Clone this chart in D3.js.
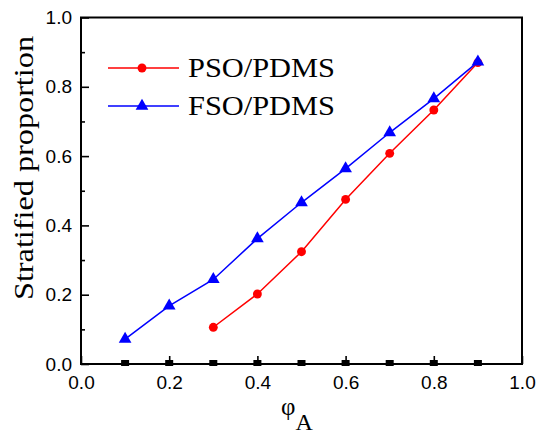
<!DOCTYPE html>
<html>
<head>
<meta charset="utf-8">
<script src="https://cdn.jsdelivr.net/npm/d3@7"></script>
<style>
  html, body { margin: 0; padding: 0; background: #fff; }
  svg { display: block; }
</style>
</head>
<body>
<svg id="chart" width="538" height="436"></svg>
<script>
// Volume fraction of component A
const phiPSO = [0.3, 0.4, 0.5, 0.6, 0.7, 0.8, 0.9];
const pso = [0.106, 0.202, 0.324, 0.475, 0.608, 0.733, 0.870];
const phiFSO = [0.1, 0.2, 0.3, 0.4, 0.5, 0.6, 0.7, 0.8, 0.9];
const fso = [0.072, 0.168, 0.244, 0.362, 0.466, 0.564, 0.668, 0.766, 0.872];
// Baseline reference points sitting on zero
const phiBase = [0.1, 0.2, 0.3, 0.4, 0.5, 0.6, 0.7, 0.8, 0.9];
const base = [0, 0, 0, 0, 0, 0, 0, 0, 0];
const majorTicks = [0, 0.2, 0.4, 0.6, 0.8, 1.0];
const minorTicks = [0.1, 0.3, 0.5, 0.7, 0.9];
const seriesNames = ["PSO/PDMS", "FSO/PDMS"];

const svg = d3.select("#chart");
const m = { left: 81, top: 17.5, right: 16, bottom: 72 };
const W = 538 - m.left - m.right;
const H = 436 - m.top - m.bottom;

const x = d3.scaleLinear().domain([0, 1]).range([0, W]);
const y = d3.scaleLinear().domain([0, 1]).range([H, 0]);

const g = svg.append("g").attr("transform", `translate(${m.left},${m.top})`);

const tickFont = "'Liberation Sans', Arial, sans-serif";
const serif = "'Liberation Serif', 'Times New Roman', serif";

// Axes: inward major ticks with labels, shorter inward minor ticks
const yAxis = g.append("g")
  .call(d3.axisLeft(y).tickValues(majorTicks).tickFormat(d3.format(".1f"))
    .tickSizeInner(-8).tickSizeOuter(0).tickPadding(9));
const yMinor = g.append("g")
  .call(d3.axisLeft(y).tickValues(minorTicks).tickFormat("")
    .tickSizeInner(-4).tickSizeOuter(0));
const xAxis = g.append("g").attr("transform", `translate(0,${H})`)
  .call(d3.axisBottom(x).tickValues(majorTicks).tickFormat(d3.format(".1f"))
    .tickSizeInner(-8).tickSizeOuter(0).tickPadding(11.5));
const xMinor = g.append("g").attr("transform", `translate(0,${H})`)
  .call(d3.axisBottom(x).tickValues(minorTicks).tickFormat("")
    .tickSizeInner(-4).tickSizeOuter(0));

[yAxis, yMinor, xAxis, xMinor].forEach(a => {
  a.select(".domain").remove();
  a.selectAll("line").attr("stroke", "#000").attr("stroke-width", 1.6);
  a.selectAll("text").attr("fill", "#000")
    .style("font-family", tickFont).style("font-size", "19px");
});

// Plot frame
g.append("rect")
  .attr("x", 0).attr("y", 0).attr("width", W).attr("height", H)
  .attr("fill", "none").attr("stroke", "#000").attr("stroke-width", 2);

// Series lines
const line = d3.line().x(d => x(d[0])).y(d => y(d[1]));
const psoPts = phiPSO.map((p, i) => [p, pso[i]]);
const fsoPts = phiFSO.map((p, i) => [p, fso[i]]);

g.append("path").datum(psoPts).attr("d", line)
  .attr("fill", "none").attr("stroke", "#ff0000").attr("stroke-width", 1.5);
g.append("path").datum(fsoPts).attr("d", line)
  .attr("fill", "none").attr("stroke", "#0000ff").attr("stroke-width", 1.5);

const circleSym = d3.symbol().type(d3.symbolCircle).size(62);
const triSym = d3.symbol().type(d3.symbolTriangle).size(70);

g.selectAll(".pso").data(psoPts).join("path")
  .attr("class", "pso")
  .attr("transform", d => `translate(${x(d[0])},${y(d[1])})`)
  .attr("d", circleSym).attr("fill", "#ff0000");
g.selectAll(".fso").data(fsoPts).join("path")
  .attr("class", "fso")
  .attr("transform", d => `translate(${x(d[0])},${y(d[1])})`)
  .attr("d", triSym).attr("fill", "#0000ff");

// Black square markers on the zero line
g.selectAll(".base").data(phiBase.map((p, i) => [p, base[i]])).join("rect")
  .attr("class", "base")
  .attr("x", d => x(d[0]) - 4).attr("y", d => y(d[1]) - 4)
  .attr("width", 8).attr("height", 6).attr("fill", "#000");

// Legend
const legend = g.append("g");
const legendRows = [
  { name: seriesNames[0], color: "#ff0000", sym: circleSym, ly: 68 },
  { name: seriesNames[1], color: "#0000ff", sym: triSym, ly: 106 }
];
legendRows.forEach(r => {
  const yy = r.ly - m.top;
  legend.append("line")
    .attr("x1", 108 - m.left).attr("x2", 179 - m.left)
    .attr("y1", yy).attr("y2", yy)
    .attr("stroke", r.color).attr("stroke-width", 1.5);
  legend.append("path")
    .attr("transform", `translate(${142 - m.left},${yy})`)
    .attr("d", r.sym).attr("fill", r.color);
  legend.append("text")
    .attr("x", 188 - m.left).attr("y", yy + 9)
    .attr("textLength", 147).attr("lengthAdjust", "spacingAndGlyphs")
    .style("font-family", serif).style("font-size", "27px")
    .attr("fill", "#000").text(r.name);
});

// Axis titles
svg.append("text")
  .attr("transform", "translate(33,168) rotate(-90)")
  .attr("text-anchor", "middle")
  .attr("textLength", 264).attr("lengthAdjust", "spacingAndGlyphs")
  .style("font-family", serif).style("font-size", "27px")
  .attr("fill", "#000").text("Stratified proportion");

const xt = svg.append("text")
  .attr("x", 281).attr("y", 415)
  .style("font-family", serif).attr("fill", "#000");
xt.append("tspan").style("font-size", "25px").text("φ");
xt.append("tspan").attr("dy", 15).style("font-size", "24px").text("A");
</script>
</body>
</html>
